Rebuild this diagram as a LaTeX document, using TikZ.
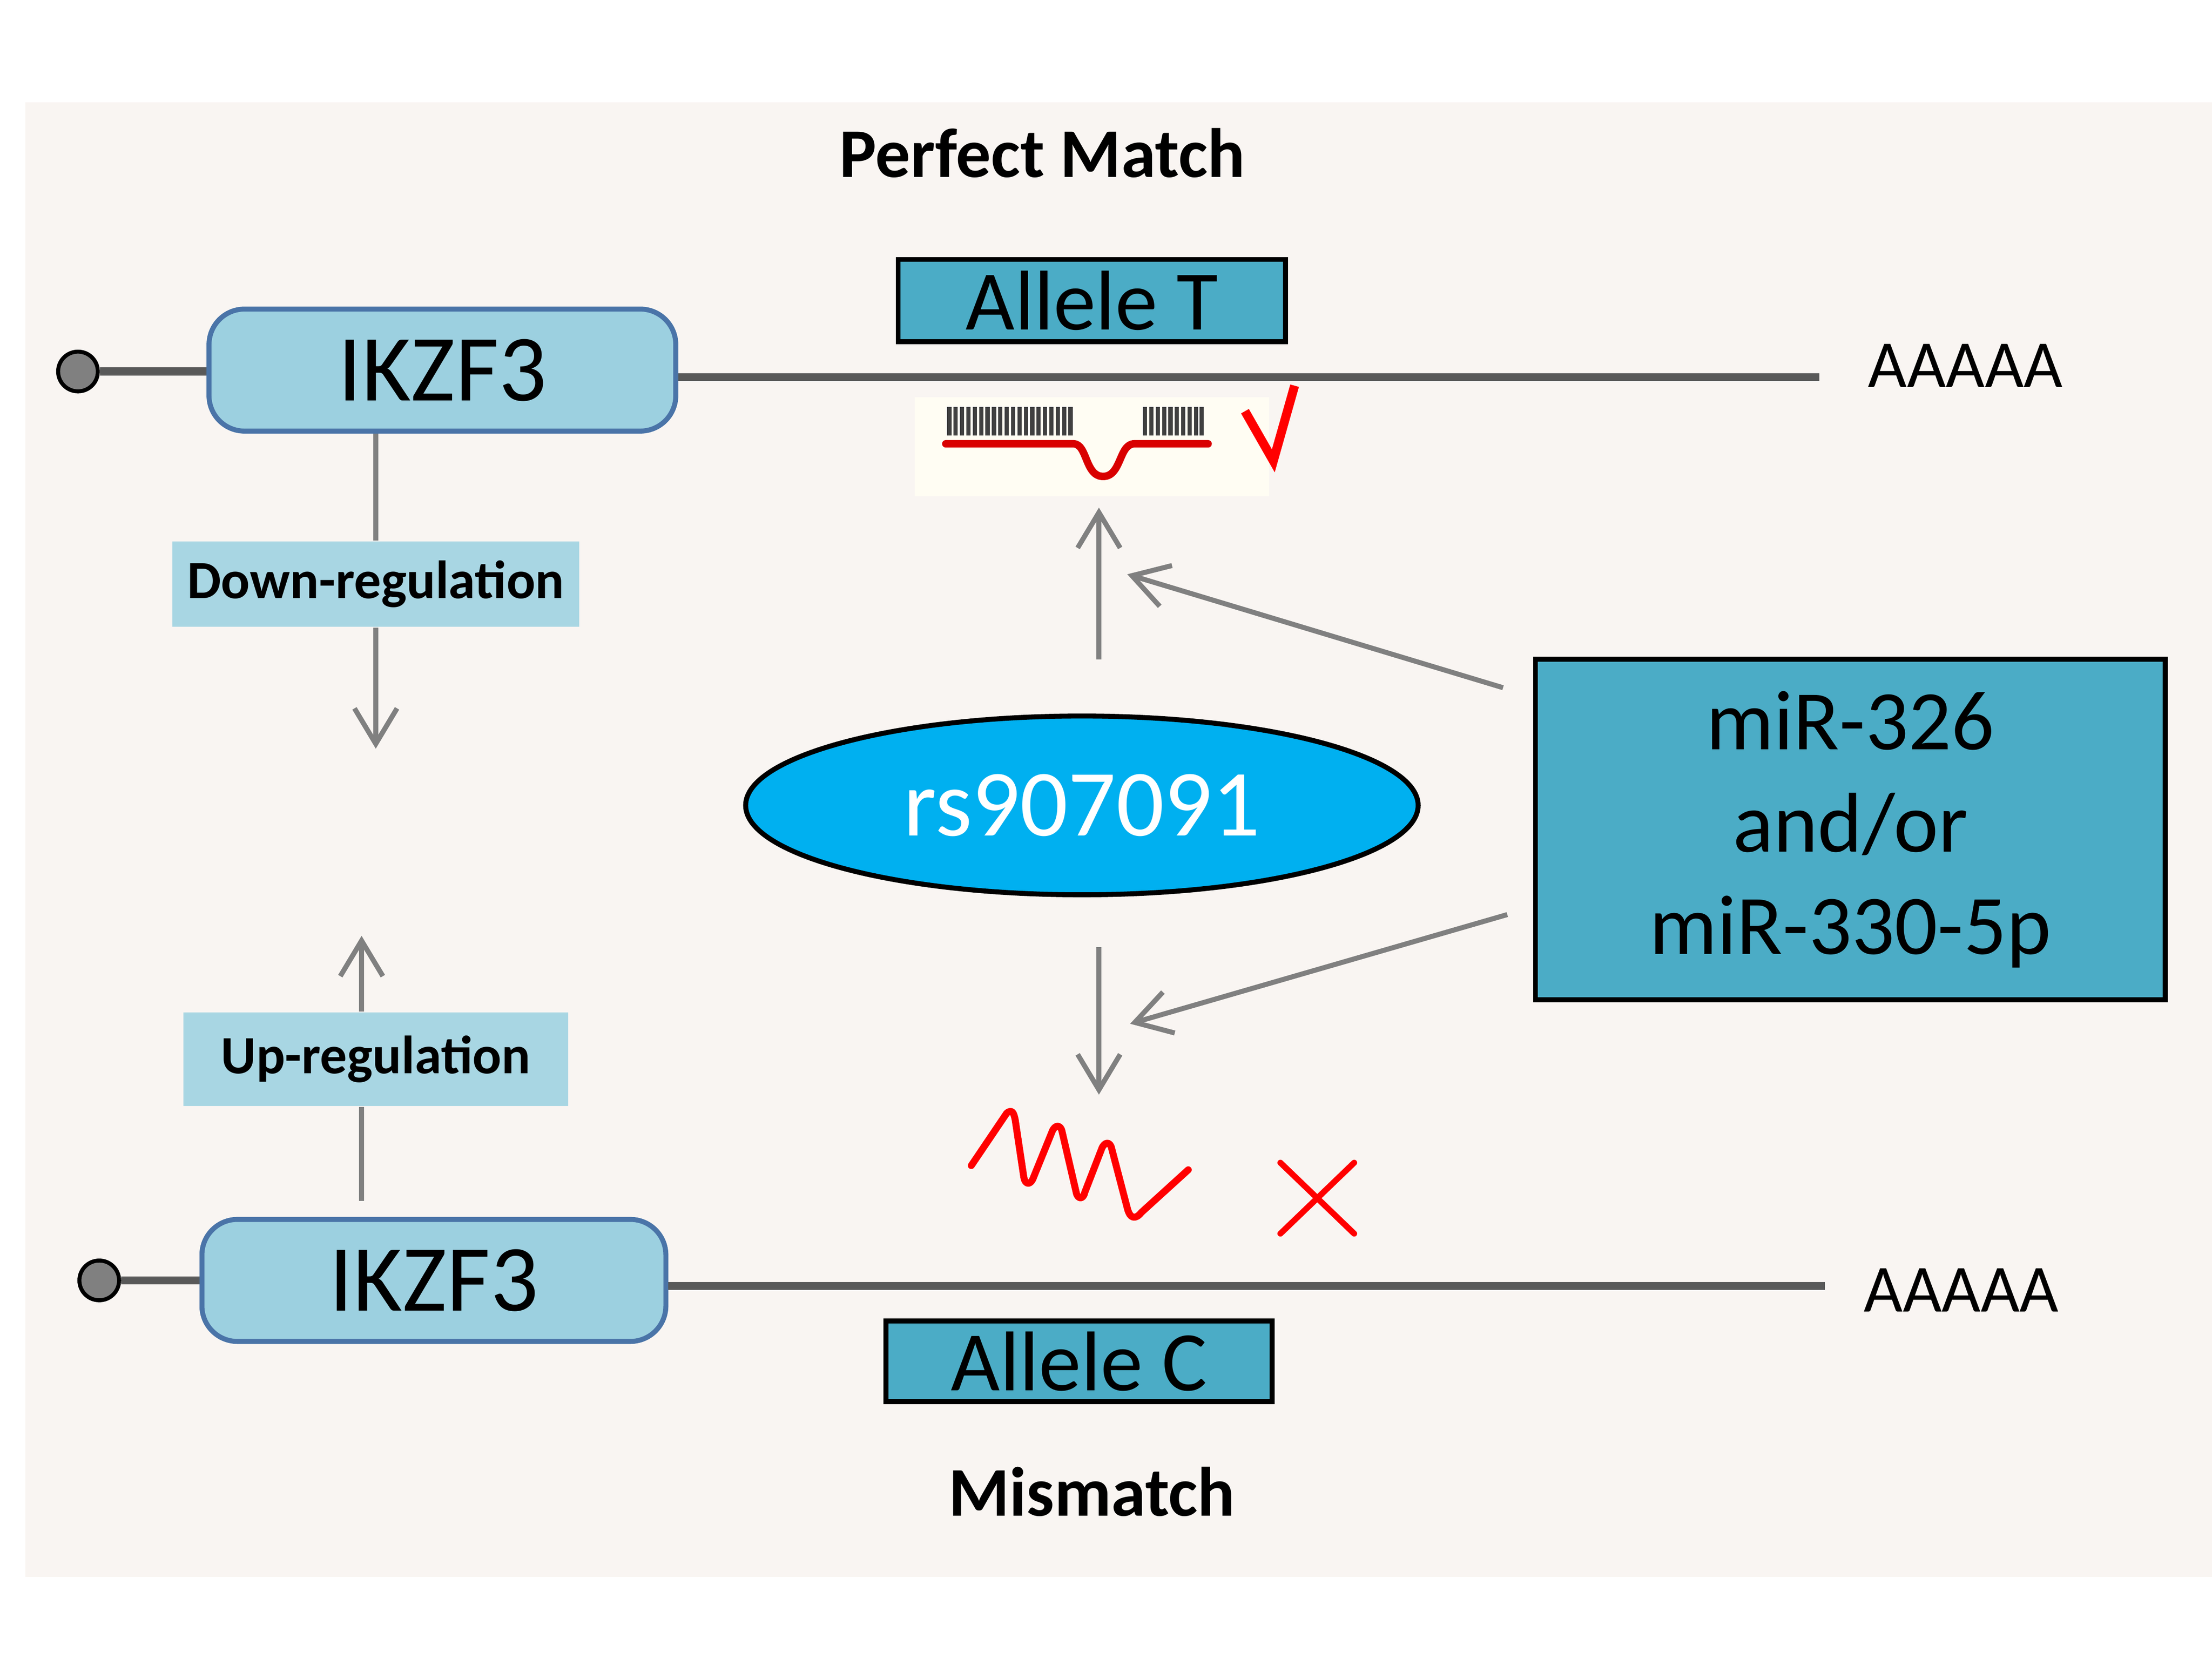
\documentclass[tikz,border=0pt]{standalone}
\usepackage{fontspec}
\setmainfont{Carlito}
\usetikzlibrary{shapes.geometric,arrows.meta}
\definecolor{bg}{HTML}{F9F5F2}
\definecolor{teal}{HTML}{4BACC6}
\definecolor{lblue}{HTML}{9CD0E0}
\definecolor{lab}{HTML}{A8D6E3}
\definecolor{bblue}{HTML}{4A74A8}
\definecolor{sky}{HTML}{00B0F0}
\definecolor{lg}{HTML}{595959}
\definecolor{ag}{HTML}{808080}
\definecolor{imgbg}{HTML}{FFFDF3}
\tikzset{
 gene/.style={draw=bblue,line width=1pt,fill=lblue,rounded corners=2.5mm,minimum width=3.29cm,minimum height=0.86cm,inner sep=0pt,font=\fontsize{19}{24}\selectfont},
 allele/.style={draw=black,line width=1pt,fill=teal,minimum width=2.73cm,minimum height=0.58cm,inner sep=0pt,font=\fontsize{17}{20}\selectfont},
 reg/.style={fill=lab,inner sep=0pt,minimum height=0.6cm,font=\bfseries\fontsize{10.8}{13}\selectfont},
 mrna/.style={draw=lg,line width=1.6pt},
 arr/.style={draw=ag,line width=1pt,-{Straight Barb[length=2.5mm,width=3mm]}},
 cap5/.style={font=\fontsize{13.5}{16}\selectfont},
 ttl/.style={font=\bfseries\fontsize{14}{16}\selectfont},
 capdot/.style={draw=black,fill=ag,circle,minimum size=0.28cm,inner sep=0pt,line width=0.8pt},
 redl/.style={draw=red,line width=1pt,line cap=round,line join=round}
}
\begin{document}
\begin{tikzpicture}[x=0.01cm,y=-0.01cm]
\useasboundingbox (0,0) rectangle (1560,1170);
\fill[white] (0,0) rectangle (1560,1170);
\fill[bg] (18,72) rectangle (1560,1112);
\node[ttl] (pm) at (735,108) {Perfect Match};
\node[ttl] (mm) at (770,1052) {Mismatch};
% top gene
\node[gene] (g1) at (312,261) {IKZF3};
\node[capdot] (c1) at (55,262) {};
\draw[mrna] (c1) -- (g1.west|-c1);
\coordinate (e1) at (1283,266);
\draw[mrna] (g1.east|-e1) -- (e1);
\node[cap5,anchor=west] (a1) at (1305,258) {AAAAA};
\node[allele] (at) at (770,212) {Allele T};
% barcode image
\fill[imgbg] (645,280) rectangle (895,350);
\foreach \x in {668,672.5,677,681.5,686,690.5,695,699.5,704,708.5,713,717.5,722,726.5,731,735.5,740,744.5,749,753.5}{\fill[black!75] (\x,287) rectangle ++(3,20);}
\foreach \x in {806,810.5,815,819.5,824,828.5,833,837.5,842,846}{\fill[black!75] (\x,287) rectangle ++(3,20);}
\draw[red!85!black,line width=1.5pt,line cap=round] (667,313) -- (757,313) .. controls (767,313) and (765,336) .. (778,336) .. controls (791,336) and (789,313) .. (800,313) -- (852,313);
\draw[draw=red,line width=1.8pt,line join=miter] (878,290) -- (898,325) -- (913,272);
% miR box
\node[draw=black,line width=1pt,fill=teal,minimum width=4.44cm,minimum height=2.4cm,inner sep=0pt,align=center,font=\fontsize{17}{20.5}\selectfont] (mir) at (1305,585) {miR-326\\and/or\\miR-330-5p};
% ellipse
\node[draw=black,line width=1pt,fill=sky,ellipse,minimum width=4.74cm,minimum height=1.26cm,inner sep=0pt,text=white,font=\fontsize{19}{24}\selectfont] (rs) at (763,568) {rs907091};
\coordinate (u1) at (775,465); \coordinate (u2) at (775,358);
\draw[arr] (u1) -- (u2);
\coordinate (m1) at (1060,485); \coordinate (m2) at (795,405);
\draw[arr] (m1) -- (m2);
\coordinate (d1) at (775,668); \coordinate (d2) at (775,772);
\draw[arr] (d1) -- (d2);
\coordinate (m3) at (1063,645); \coordinate (m4) at (797,722);
\draw[arr] (m3) -- (m4);
% regulation
\node[reg,minimum width=2.87cm] (dr) at (265,412) {Down-regulation};
\coordinate (dt) at (265,528);
\draw[draw=ag,line width=1pt] (g1.south-|dr) -- (dr);
\draw[arr] (dr) -- (dt);
\node[reg,minimum width=2.71cm,minimum height=0.66cm] (ur) at (265,747) {Up-regulation};
% bottom gene
\node[gene,minimum width=3.27cm] (g2) at (306,903) {IKZF3};
\coordinate (ub) at (255,847); \coordinate (ut) at (255,660);
\draw[draw=ag,line width=1pt] (ub) -- (ub|-ur.south);
\draw[arr] (ub|-ur.north) -- (ut);
\node[capdot] (c2) at (70,903) {};
\draw[mrna] (c2) -- (g2.west|-c2);
\coordinate (e2) at (1287,907);
\draw[mrna] (g2.east|-e2) -- (e2);
\node[cap5,anchor=west] (a2) at (1302,910) {AAAAA};
\node[allele,minimum width=2.72cm,minimum height=0.57cm] (ac) at (761,960) {Allele C};
% squiggle and cross
\draw[redl,line width=1.4pt] (685,822) -- (710,785) .. controls (714,782) and (715,785) .. (716,790) -- (722,830) .. controls (723,836) and (727,836) .. (729,830) -- (742,798) .. controls (744,793) and (748,793) .. (749,798) -- (759,841) .. controls (760,846) and (764,846) .. (765,841) -- (777,810) .. controls (779,805) and (783,805) .. (784,810) -- (795,852) .. controls (797,860) and (801,860) .. (805,855) -- (838,825);
\draw[redl,line width=1.2pt] (903,820) -- (955,870) (955,820) -- (903,870);
\end{tikzpicture}
\end{document}
